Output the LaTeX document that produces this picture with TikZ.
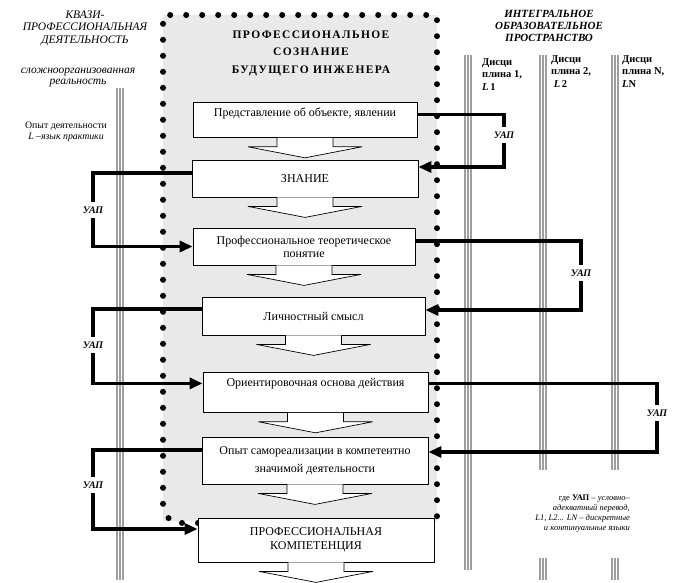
\documentclass[tikz,border=0pt]{standalone}
\usepackage{fontspec}
\setmainfont{Liberation Serif}
\usetikzlibrary{positioning,calc,arrows.meta}

\begin{document}
\begin{tikzpicture}[x=1pt,y=-1pt,
        box/.style={draw, line width=0.8pt, fill=white, align=center, inner sep=2pt,
                    font=\fontsize{12}{13}\selectfont},
        flow/.style={draw, fill=white, line width=0.7pt},
        conn/.style={line width=3.6pt},
        arr/.style={conn, -{Triangle[length=13pt,width=11pt]}},
        uap/.style={font=\fontsize{10}{12}\selectfont\bfseries\itshape, inner xsep=1pt, inner ysep=4.5pt},
        rail/.style={draw=gray!75, line width=1.3pt,
                     preaction={draw=white, line width=4.6pt,
                                preaction={draw=gray!75, line width=7.6pt}}},
        dots/.style={line width=6pt, line cap=round, dash pattern=on 0pt off 16pt},
        disc/.style={anchor=north west, align=left, inner sep=0pt,
                     font=\fontsize{10.5}{12.5}\selectfont\bfseries},
    ]
        \useasboundingbox (0,0) rectangle (681,582);

        % rails of the two spaces
        \draw[rail] (120,88) -- (120,580);
        \draw[rail] (468,55) -- (468,570);
        \draw[rail] (543,55) -- (543,580);
        \draw[rail] (615,55) -- (615,580);

        % consciousness area
        \fill[gray!17] (163,15) rectangle (437,521);
        \draw[dots] (198,523) -- (172,523) -- (163,510) -- (163,15) -- (437,15) -- (437,523);

        % headings
        \node[align=center, font=\fontsize{11.5}{12.5}\selectfont\itshape] (kvazi) at (85,28)
            {КВАЗИ-\\ПРОФЕССИОНАЛЬНАЯ\\ДЕЯТЕЛЬНОСТЬ};
        \node[align=center, font=\fontsize{11.5}{11}\selectfont\itshape] (real) at (78,78)
            {сложноорганизованная\\реальность};
        \node[align=center, font=\fontsize{9.8}{10.5}\selectfont] (praktika) at (66,132)
            {Опыт деятельности\\\textit{L –язык практики}};
        \node[align=center, font=\fontsize{11.5}{17.5}\selectfont\bfseries\addfontfeature{LetterSpace=12}] (soznanie) at (311,53)
            {ПРОФЕССИОНАЛЬНОЕ\\СОЗНАНИЕ\\БУДУЩЕГО ИНЖЕНЕРА};
        \node[align=center, font=\fontsize{11}{12}\selectfont\bfseries\itshape] (integr) at (549,26)
            {ИНТЕГРАЛЬНОЕ\\ОБРАЗОВАТЕЛЬНОЕ\\ПРОСТРАНСТВО};
        \node[disc] (disc1) at (482,58) {Дисци\\плина 1,\\\textit{L}\,1};
        \node[disc] (disc2) at (551,55) {Дисци\\плина 2,\\\ \textit{L}\,2};
        \node[disc] (discN) at (622,55) {Дисци\\плина N,\\\textit{L}N};
        \node[fill=white, align=right, anchor=east, minimum height=88, inner xsep=2pt,
              font=\fontsize{8.5}{10}\selectfont\itshape] (legend) at (632,514)
            {\upshape где \textbf{УАП} \itshape– условно–\\адекватный перевод,\\L1, L2... LN – дискретные\\и континуальные языки};

        % stages
        \node[box, minimum width=224, inner ysep=0pt, text height=14, text depth=21, anchor=north] (pred) at (305,102)
            {Представление об объекте, явлении};
        \node[box, minimum width=226, minimum height=37] (zn) at (305,178.5) {ЗНАНИЕ};
        \node[box, minimum width=222, minimum height=37] (teor) at (304,246.5)
            {Профессиональное теоретическое\\понятие};
        \node[box, minimum width=223, minimum height=38] (smysl) at (313.5,316) {Личностный смысл};
        \node[box, minimum width=225, inner ysep=0pt, text height=14, text depth=26, anchor=north] (ood) at (315.5,372)
            {Ориентировочная основа действия};
        \node[box, minimum width=226, minimum height=47, font=\fontsize{12}{18}\selectfont] (opyt) at (315,460.5)
            {Опыт самореализации в компетентно\\значимой деятельности};
        \node[box, minimum width=236, minimum height=44, font=\fontsize{12}{14}\selectfont] (komp) at (316,540)
            {ПРОФЕССИОНАЛЬНАЯ\\КОМПЕТЕНЦИЯ};

        % wide arrows under the stages
        \foreach \b in {pred,zn,teor,smysl,ood,opyt,komp}
            \draw[flow] ([xshift=-28pt]\b.south) -- ++(0,9) -- ++(-29,0) -- ++(57,11)
                        -- ++(57,-11) -- ++(-29,0) -- ++(0,-9);

        % translations
        \node[uap] (uapR1) at (504,135) {УАП};
        \node[uap] (uapR2) at (581,273) {УАП};
        \node[uap] (uapR3) at (657,413) {УАП};
        \node[uap] (uapL1) at (93,210) {УАП};
        \node[uap] (uapL2) at (93,345) {УАП};
        \node[uap] (uapL3) at (93,485) {УАП};

        \draw[conn] ([yshift=5.5pt]pred.east) -| (uapR1);
        \draw[arr]  (uapR1) |- ([yshift=11.5pt]zn.east);
        \draw[conn] ([yshift=5.5pt]teor.east) -| (uapR2);
        \draw[arr]  (uapR2) |- ([yshift=6pt]smysl.east);
        \draw[conn] ([yshift=9pt]ood.east) -| (uapR3);
        \draw[arr]  (uapR3) |- ([yshift=8.5pt]opyt.east);

        \draw[conn] ([yshift=5.5pt]zn.west) -| (uapL1);
        \draw[arr]  (uapL1) |- (teor.west);
        \draw[conn] ([yshift=7pt]smysl.west) -| (uapL2);
        \draw[arr]  (uapL2) |- ([yshift=9pt]ood.west);
        \draw[conn] ([yshift=10.5pt]opyt.west) -| (uapL3);
        \draw[arr]  (uapL3) |- ([yshift=11pt]komp.west);
    \end{tikzpicture}
\end{document}
